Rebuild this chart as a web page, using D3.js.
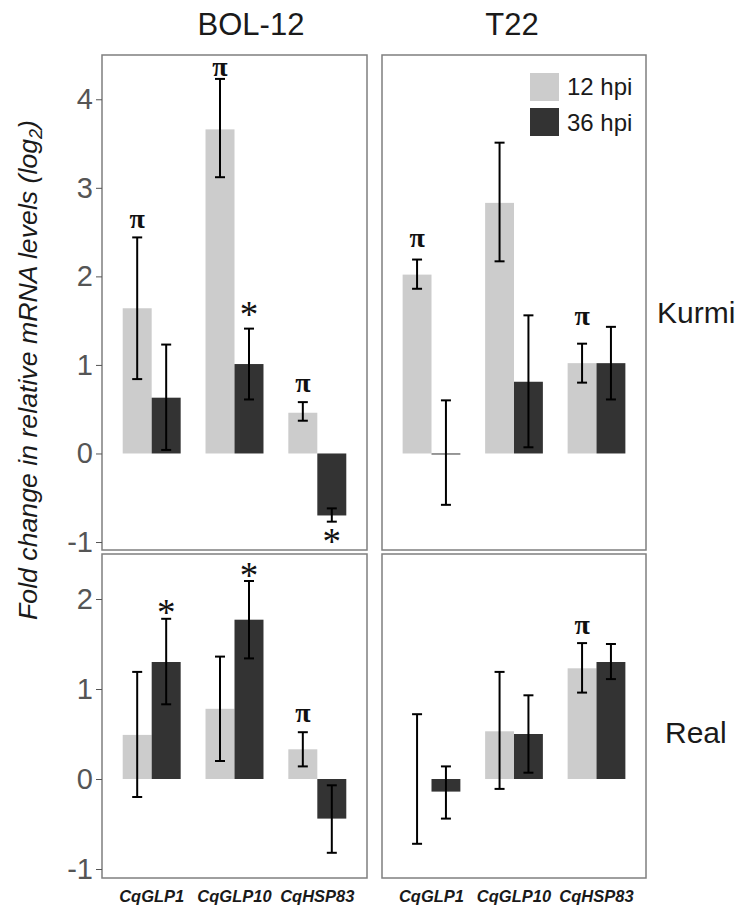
<!DOCTYPE html>
<html>
<head>
<meta charset="utf-8">
<script src="https://cdn.jsdelivr.net/npm/d3@7"></script>
<style>
body { margin: 0; background: #fff; }
text { font-family: "Liberation Sans", Arial, sans-serif; }
</style>
</head>
<body>
<div id="chart"></div>
<script>
var genes = ["CqGLP1", "CqGLP10", "CqHSP83"];
var times = ["12 hpi", "36 hpi"];
var strains = ["BOL-12", "T22"];
var cultivars = ["Kurmi", "Real"];

// [mean, lower, upper] for each gene
var kurmiBol_12 = [[1.64, 0.84, 2.44], [3.66, 3.12, 4.23], [0.46, 0.37, 0.58]];
var kurmiBol_36 = [[0.63, 0.04, 1.23], [1.01, 0.61, 1.41], [-0.70, -0.77, -0.62]];
var kurmiT22_12 = [[2.02, 1.86, 2.19], [2.83, 2.17, 3.51], [1.02, 0.80, 1.24]];
var kurmiT22_36 = [[0.00, -0.58, 0.60], [0.81, 0.07, 1.56], [1.02, 0.61, 1.43]];
var realBol_12 = [[0.49, -0.20, 1.19], [0.78, 0.20, 1.36], [0.33, 0.14, 0.52]];
var realBol_36 = [[1.30, 0.83, 1.78], [1.77, 1.34, 2.20], [-0.44, -0.82, -0.07]];
var realT22_12 = [[0.00, -0.72, 0.72], [0.53, -0.11, 1.19], [1.23, 0.96, 1.51]];
var realT22_36 = [[-0.14, -0.44, 0.14], [0.50, 0.07, 0.93], [1.30, 1.11, 1.50]];

// significance marks: [gene index, time index, symbol, y value]
var kurmiBolMarks = [[0, 0, "π", 2.62], [1, 0, "π", 4.34], [1, 1, "*", 1.62], [2, 0, "π", 0.77], [2, 1, "*", -0.94]];
var kurmiT22Marks = [[0, 0, "π", 2.41], [2, 0, "π", 1.53]];
var realBolMarks = [[0, 1, "*", 1.90], [1, 1, "*", 2.31], [2, 0, "π", 0.71]];
var realT22Marks = [[2, 0, "π", 1.69]];

var kurmiDomain = [-1.09, 4.5];
var realDomain = [-1.1, 2.5];
var kurmiTicks = [-1, 0, 1, 2, 3, 4];
var realTicks = [-1, 0, 1, 2];

var colors = ["#cccccc", "#333333"];

var panels = [
    { row: 0, col: 0, series: [kurmiBol_12, kurmiBol_36], marks: kurmiBolMarks },
    { row: 0, col: 1, series: [kurmiT22_12, kurmiT22_36], marks: kurmiT22Marks },
    { row: 1, col: 0, series: [realBol_12, realBol_36], marks: realBolMarks },
    { row: 1, col: 1, series: [realT22_12, realT22_36], marks: realT22Marks }
];

var colX = [[102, 367], [382, 646]];
var rowY = [[55, 550], [554, 878]];
var domains = [kurmiDomain, realDomain];
var ticks = [kurmiTicks, realTicks];

var svg = d3.select("#chart").append("svg")
    .attr("width", 741)
    .attr("height", 907);

panels.forEach(function (p) {
    var x = d3.scaleBand().domain(genes).range(colX[p.col]).paddingInner(0.3).paddingOuter(0.25);
    var xt = d3.scaleBand().domain(times).range([0, x.bandwidth()]);
    var y = d3.scaleLinear().domain(domains[p.row]).range([rowY[p.row][1], rowY[p.row][0]]);
    var g = svg.append("g");

    p.series.forEach(function (s, ti) {
        var t = times[ti];
        var bars = s.map(function (d, gi) { return { gene: genes[gi], mean: d[0], lo: d[1], hi: d[2] }; });

        // zero-height bars only show as a thin line for the dark series
        g.selectAll(null).data(bars).enter().append("rect")
            .attr("x", d => x(d.gene) + xt(t))
            .attr("width", xt.bandwidth())
            .attr("y", d => y(Math.max(0, d.mean)))
            .attr("height", d => Math.max(ti == 1 ? 1 : 0, Math.abs(y(d.mean) - y(0))))
            .attr("fill", colors[ti]);

        var cx = d => x(d.gene) + xt(t) + xt.bandwidth() / 2;
        var err = g.selectAll(null).data(bars).enter().append("g")
            .attr("stroke", "#000")
            .attr("stroke-width", 2);
        err.append("line")
            .attr("x1", cx).attr("x2", cx)
            .attr("y1", d => y(d.lo)).attr("y2", d => y(d.hi));
        err.append("line")
            .attr("x1", d => cx(d) - 5).attr("x2", d => cx(d) + 5)
            .attr("y1", d => y(d.lo)).attr("y2", d => y(d.lo));
        err.append("line")
            .attr("x1", d => cx(d) - 5).attr("x2", d => cx(d) + 5)
            .attr("y1", d => y(d.hi)).attr("y2", d => y(d.hi));
    });

    g.selectAll(null).data(p.marks).enter().append("text")
        .attr("x", d => x(genes[d[0]]) + xt(times[d[1]]) + xt.bandwidth() / 2)
        .attr("y", d => y(d[3]) + (d[2] == "π" ? 7 : 17))
        .attr("text-anchor", "middle")
        .style("font-family", "'Liberation Serif', 'Times New Roman', serif")
        .style("font-weight", d => d[2] == "π" ? 700 : 400)
        .style("font-size", d => d[2] == "π" ? "28px" : "37px")
        .attr("fill", "#111")
        .text(d => d[2]);

    g.append("rect")
        .attr("x", colX[p.col][0]).attr("y", rowY[p.row][0])
        .attr("width", colX[p.col][1] - colX[p.col][0])
        .attr("height", rowY[p.row][1] - rowY[p.row][0])
        .attr("fill", "none")
        .attr("stroke", "#7f7f7f")
        .attr("stroke-width", 1.5);

    if (p.col == 0) {
        var ax = svg.append("g")
            .attr("transform", "translate(" + colX[0][0] + ",0)")
            .call(d3.axisLeft(y).tickValues(ticks[p.row]).tickSize(6).tickPadding(3).tickFormat(d => String(d)));
        ax.select(".domain").remove();
        ax.selectAll(".tick line").attr("stroke", "#555");
        ax.selectAll(".tick text")
            .attr("fill", "#555")
            .style("font-size", "29px")
            .style("font-family", "'Liberation Sans', Arial, sans-serif");
    }

    if (p.row == 1) {
        g.selectAll(null).data(genes).enter().append("text")
            .attr("x", d => x(d) + x.bandwidth() / 2)
            .attr("y", 902)
            .attr("text-anchor", "middle")
            .style("font-size", "16.5px")
            .style("font-weight", 700)
            .style("font-style", "italic")
            .attr("fill", "#1a1a1a")
            .text(d => d);
    }
});

// strip titles
svg.selectAll(null).data(strains).enter().append("text")
    .attr("x", (d, i) => [251, 512][i])
    .attr("y", 35)
    .attr("text-anchor", "middle")
    .style("font-size", "31px")
    .attr("fill", "#1a1a1a")
    .text(d => d);

svg.selectAll(null).data(cultivars).enter().append("text")
    .attr("x", (d, i) => [657, 665][i])
    .attr("y", (d, i) => [323, 743][i])
    .style("font-size", "30px")
    .attr("fill", "#1a1a1a")
    .text(d => d);

// legend
var legend = svg.append("g").attr("transform", "translate(530,73)");
legend.selectAll("rect").data(times).enter().append("rect")
    .attr("x", 0)
    .attr("y", (d, i) => i * 35)
    .attr("width", 29)
    .attr("height", 28)
    .attr("fill", (d, i) => colors[i]);
legend.selectAll("text").data(times).enter().append("text")
    .attr("x", 37)
    .attr("y", (d, i) => 22 + i * 36)
    .style("font-size", "24px")
    .attr("fill", "#1a1a1a")
    .text(d => d);

// y axis title
var title = svg.append("text")
    .attr("transform", "translate(37,370) rotate(-90)")
    .attr("text-anchor", "middle")
    .style("font-size", "27px")
    .style("font-style", "italic")
    .attr("fill", "#1a1a1a");
title.append("tspan").text("Fold change in relative mRNA levels (log");
title.append("tspan").attr("dy", 5).style("font-size", "18px").text("2");
title.append("tspan").attr("dy", -5).text(")");
var len = title.node().getComputedTextLength();
title.style("font-size", (27 * 500 / len) + "px");
</script>
</body>
</html>
